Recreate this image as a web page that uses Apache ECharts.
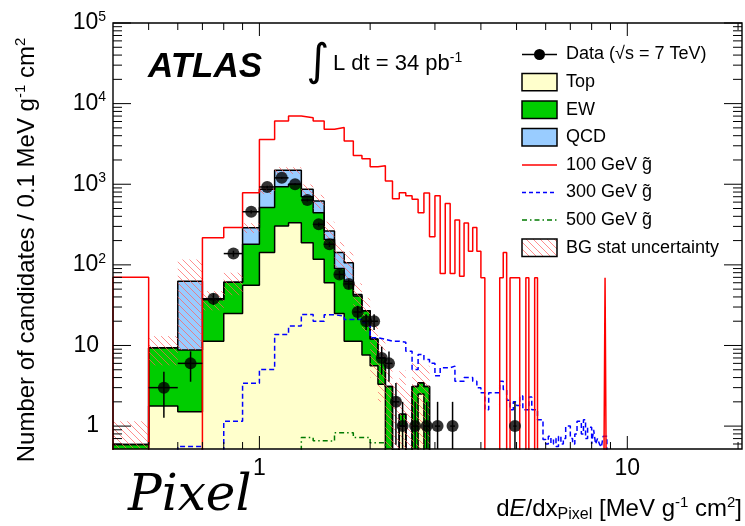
<!DOCTYPE html>
<html>
<head>
<meta charset="utf-8">
<script src="https://cdn.jsdelivr.net/npm/echarts@6/dist/echarts.min.js"></script>
<style>
  html, body { margin: 0; padding: 0; background: #fff; }
  #main { width: 745px; height: 526px; }
</style>
</head>
<body>
<div id="main"></div>
<script>
// histogram binning: 0.1 MeV g^-1 cm^2 bins starting at 0.4
const BIN_START = 0.4;
const BIN_W = 0.1;

// backgrounds, one value per bin from 0.4 to 2.9
const bgTop = [0.3, 1.77, 1.51, 11.3, 25, 56, 142, 303, 334, 188, 117, 60, 25, 11.3, 11.3, 7.6, 5.6, 3.3, 0.3, 0.3, 1.0, 0.2, 0.3, 2.5, 0.3];
const bgEW  = [0.29, 7.6, 7.3, 26, 36, 124, 371, 631, 666, 514, 327, 147, 65, 50.7, 29.7, 19.4, 6.4, 3.7, 2.8, 0.2, 0.4, 0.1, 2.8, 0.95, 2.8];
const bgQCD = [0, 0, 54, 0, 0, 109, 351, 552, 486, 162, 175, 56, 52, 44, 2, 0, 0, 0, 0, 0, 0, 0, 0, 0, 0];
const bgErr = [0.56, 3.7, 54, 10, 19, 40, 110, 140, 140, 130, 120, 80, 50, 40, 16, 12, 8, 5, 2.8, 3, 3.5, 2.5, 3, 3, 2.5];

// gluino signals, one value per bin from 0.4
const sig100 = [70, 0, 0, 217, 290, 786, 3600, 6100, 7000, 6700, 6100, 4800, 5050, 3440, 2270, 2070, 1650, 1700, 1100, 662,
  786, 719, 650, 444, 776, 224, 720, 78, 575, 78, 360, 72, 330, 147, 290, 147, 69, 0, 0, 0,
  0, 69, 142, 0, 69, 69, 69, 0, 0, 69, 0, 0, 69,
  0, 0, 0, 0, 0, 0, 0, 0, 0, 0, 0, 0, 0, 0, 0, 0, 0, 0, 0, 0, 0, 0, 0, 0, 0, 0, 0, 0, 0, 0,
  69];
const sig300 = [0, 0, 0.56, 0, 1.15, 3.4, 5.05, 13.7, 17.4, 24.3, 20, 24, 23.2, 21, 21, 19.2, 12.5, 11.9, 11.3, 11.3,
  11, 8.5, 5.05, 7.75, 6.7, 6.0, 4.2, 5.3, 5.3, 5.55, 3.6, 3.6, 4.0, 4.0, 3.6, 3.0, 2.6, 1.6, 2.6, 2.6,
  2.6, 3.6, 2.85, 2.1, 1.6, 2.0, 1.8, 2.36, 1.6, 1.6, 2.3, 1.6, 1.6, 1.2, 1.2, 0.68, 0.6, 0.75, 0.6, 0.7,
  0.56, 0.75, 0.6, 0.7, 1.0, 1.0, 0.7, 0.6, 0.8, 1.15, 1.15, 0.8, 1.2, 0.7, 0.97, 0.97, 0.6, 0.9, 0.6, 0.7,
  0.6, 0.55, 0.75, 0.75];
const sig500 = [0, 0, 0, 0, 0, 0, 0, 0, 0, 0.72, 0.66, 0.65, 0.83, 0.83, 0.72, 0.72, 0.62, 0.62];

// data: bin centres and counts
const dataX = [0.55, 0.65, 0.75, 0.85, 0.95, 1.05, 1.15, 1.25, 1.35, 1.45, 1.55, 1.65, 1.75, 1.85, 1.95, 2.05, 2.15, 2.25, 2.35, 2.45, 2.65, 2.85, 3.05, 3.35, 4.95];
const dataN = [3, 6, 38, 138, 456, 925, 1200, 1000, 636, 318, 180, 76, 58, 26, 20, 20, 7, 6, 2, 1, 1, 1, 1, 1, 1];

const X_MIN = 0.4, X_MAX = 20.5;
const Y_MIN = 0.52, Y_MAX = 1e5;
const FLOOR = 0.01; // empty bins drop below the frame

const FONT = "'Liberation Sans', Arial, Helvetica, sans-serif";

const edge = i => +(BIN_START + i * BIN_W).toFixed(2);

function steps(vals) {
    const pts = [[edge(0), FLOOR]];
    vals.forEach((v, i) => {
        const y = v > 0 ? v : FLOOR;
        pts.push([edge(i), y], [edge(i + 1), y]);
    });
    pts.push([edge(vals.length), FLOOR]);
    return pts;
}

const stEW = bgTop.map((v, i) => v + bgEW[i]);
const stAll = stEW.map((v, i) => v + bgQCD[i]);

// red hatch for BG stat uncertainty
const hatchCanvas = document.createElement('canvas');
hatchCanvas.width = 7;
hatchCanvas.height = 7;
(function () {
    const g = hatchCanvas.getContext('2d');
    g.strokeStyle = 'rgba(255,95,95,0.7)';
    g.lineWidth = 1;
    g.beginPath();
    g.moveTo(0, 0); g.lineTo(7, 7);
    g.moveTo(-1, 6); g.lineTo(1, 8);
    g.moveTo(6, -1); g.lineTo(8, 1);
    g.stroke();
})();
const hatch = { image: hatchCanvas, repeat: 'repeat' };

const hatchData = [];
stAll.forEach((t, i) => {
    if (bgErr[i] > 0) hatchData.push([edge(i), edge(i + 1), t, bgErr[i]]);
});

// tick marks (ROOT style, all four sides)
const tickData = [];
[0.5, 0.6, 0.7, 0.8, 0.9, 1, 2, 3, 4, 5, 6, 7, 8, 9, 10, 20].forEach(v => {
    tickData.push([v, 1, 0, (v === 1 || v === 10) ? 1 : 0]);
});
for (let e = -1; e <= 5; e++) {
    for (let k = 1; k <= 9; k++) {
        const v = k * Math.pow(10, e);
        if (v > Y_MIN && v <= Y_MAX) tickData.push([1, v, 1, k === 1 ? 1 : 0]);
    }
}

const chart = echarts.init(document.getElementById('main'));

const isPow10 = v => Math.abs(Math.log10(v) - Math.round(Math.log10(v))) < 1e-6;

const legendRows = [54.5, 82.1, 109.7, 137.3, 164.9, 192.5, 220.1, 247.7];
const legendNames = ['Data (\u221As = 7 TeV)', 'Top', 'EW', 'QCD', '100 GeV g\u0303', '300 GeV g\u0303', '500 GeV g\u0303', 'BG stat uncertainty'];

const graphics = [];
const LX = 522, LW = 35, LH = 17.4;
graphics.push({ type: 'line', shape: { x1: LX, y1: legendRows[0], x2: LX + LW, y2: legendRows[0] }, style: { stroke: '#000', lineWidth: 1.5 } });
graphics.push({ type: 'circle', shape: { cx: LX + LW / 2, cy: legendRows[0], r: 5.5 }, style: { fill: '#000' } });
[['#ffffcc', 1], ['#00cc00', 2], ['#99ccff', 3], [hatch, 7]].forEach(([fill, r]) => {
    graphics.push({ type: 'rect', shape: { x: LX, y: legendRows[r] - LH / 2, width: LW, height: LH }, style: { fill: fill, stroke: '#000', lineWidth: 1.5 } });
});
[['#ff0000', null, 4], ['#0000ff', [4, 3], 5], ['#007a00', [5, 3, 1.5, 3], 6]].forEach(([c, d, r]) => {
    graphics.push({ type: 'line', shape: { x1: LX, y1: legendRows[r], x2: LX + LW, y2: legendRows[r] }, style: { stroke: c, lineWidth: 1.5, lineDash: d } });
});
legendNames.forEach((n, i) => {
    graphics.push({ type: 'text', x: 566, y: legendRows[i], style: { text: n, fontSize: 18, fontFamily: FONT, fill: '#000', align: 'left', verticalAlign: 'middle' } });
});

// labels on the canvas
graphics.push({ type: 'text', x: 148, y: 67, style: { text: 'ATLAS', fontSize: 35, fontWeight: 'bold', fontStyle: 'italic', fontFamily: FONT, fill: '#000', align: 'left', verticalAlign: 'middle' } });
graphics.push({ type: 'text', x: 318, y: 64, style: { text: '\u222B', fontSize: 44, fontFamily: "'DejaVu Sans'", fill: '#000', align: 'center', verticalAlign: 'middle' } });
graphics.push({
    type: 'text', x: 333, y: 64,
    style: {
        text: '{m|L dt = 34 pb}{s|-1}', align: 'left', verticalAlign: 'middle',
        rich: {
            m: { fontSize: 22, lineHeight: 26, fontFamily: FONT, fill: '#000' },
            s: { fontSize: 14, lineHeight: 12, verticalAlign: 'top', fontFamily: FONT, fill: '#000' }
        }
    }
});
graphics.push({ type: 'text', x: 128, y: 497, style: { text: 'Pixel', fontSize: 50, fontStyle: 'italic', fontFamily: "'DejaVu Serif'", fill: '#000', align: 'left', verticalAlign: 'middle' } });

const titleRich = {
    m: { fontSize: 24, lineHeight: 28, fontFamily: FONT, fill: '#000' },
    i: { fontSize: 24, lineHeight: 28, fontStyle: 'italic', fontFamily: FONT, fill: '#000' },
    s: { fontSize: 15, lineHeight: 14, verticalAlign: 'top', fontFamily: FONT, fill: '#000' },
    b: { fontSize: 16, lineHeight: 14, verticalAlign: 'bottom', fontFamily: FONT, fill: '#000' }
};
graphics.push({
    type: 'text', x: 27, y: 250, rotation: Math.PI / 2,
    style: { text: '{m|Number of candidates / 0.1 MeV g}{s|-1}{m| cm}{s|2}', align: 'center', verticalAlign: 'middle', rich: titleRich }
});
graphics.push({
    type: 'text', x: 742, y: 509,
    style: { text: '{m|d}{i|E}{m|/dx}{b|Pixel}{m| [MeV g}{s|-1}{m| cm}{s|2}{m|]}', align: 'right', verticalAlign: 'middle', rich: titleRich }
});

const option = {
    animation: false,
    grid: { left: 113, right: 2, top: 23, bottom: 77 },
    xAxis: {
        type: 'log', logBase: 10, min: X_MIN, max: X_MAX,
        axisLine: { show: false }, axisTick: { show: false }, splitLine: { show: false },
        axisLabel: {
            margin: 8, fontSize: 23, color: '#000', fontFamily: FONT,
            formatter: v => isPow10(v) ? String(Math.round(v)) : ''
        }
    },
    yAxis: {
        type: 'log', logBase: 10, min: Y_MIN, max: Y_MAX,
        axisLine: { show: false }, axisTick: { show: false }, splitLine: { show: false },
        axisLabel: {
            margin: 7, color: '#000',
            formatter: v => {
                if (!isPow10(v)) return '';
                const e = Math.round(Math.log10(v));
                if (e === 0) return '{p|1}';
                if (e === 1) return '{p|10}';
                return '{b|10}{s|' + e + '}';
            },
            rich: {
                b: { fontSize: 23, lineHeight: 26, fontFamily: FONT, color: '#000' },
                p: { fontSize: 23, lineHeight: 26, fontFamily: FONT, color: '#000', padding: [0, 7, 0, 0] },
                s: { fontSize: 14, lineHeight: 12, verticalAlign: 'top', fontFamily: FONT, color: '#000' }
            }
        }
    },
    series: [
        {
            name: 'QCD', type: 'line', data: steps(stAll), symbol: 'none', z: 2,
            lineStyle: { color: '#000', width: 1.5 },
            areaStyle: { color: '#99ccff', opacity: 1, origin: 'start' }
        },
        {
            name: 'EW', type: 'line', data: steps(stEW), symbol: 'none', z: 2,
            lineStyle: { color: '#000', width: 1.5 },
            areaStyle: { color: '#00cc00', opacity: 1, origin: 'start' }
        },
        {
            name: 'Top', type: 'line', data: steps(bgTop), symbol: 'none', z: 2,
            lineStyle: { color: '#000', width: 1.5 },
            areaStyle: { color: '#ffffcc', opacity: 1, origin: 'start' }
        },
        {
            name: 'BG stat uncertainty', type: 'custom', z: 3, data: hatchData,
            renderItem: (params, api) => {
                const lo = api.value(0), hi = api.value(1), t = api.value(2), err = api.value(3);
                const yl = Math.max(t - err, Y_MIN), yh = Math.min(t + err, Y_MAX);
                const p0 = api.coord([lo, yh]), p1 = api.coord([hi, yl]);
                return { type: 'rect', shape: { x: p0[0], y: p0[1], width: p1[0] - p0[0], height: p1[1] - p0[1] }, style: { fill: hatch, stroke: null } };
            }
        },
        {
            name: '500 GeV', type: 'line', data: steps(sig500), symbol: 'none', z: 4,
            lineStyle: { color: '#007a00', width: 1.5, type: [5, 3, 1.5, 3] }
        },
        {
            name: '300 GeV', type: 'line', data: steps(sig300), symbol: 'none', z: 4,
            lineStyle: { color: '#0000ff', width: 1.5, type: [5, 3] }
        },
        {
            name: '100 GeV', type: 'line', data: steps(sig100), symbol: 'none', z: 4,
            lineStyle: { color: '#ff0000', width: 1.5 }
        },
        {
            name: 'Data errors', type: 'custom', z: 5,
            data: dataX.map((x, i) => [x, dataN[i]]),
            renderItem: (params, api) => {
                const x = api.value(0), n = api.value(1), err = Math.sqrt(n);
                const top = api.coord([x, n + err]);
                const bot = api.coord([x, Math.max(n - err, Y_MIN)]);
                const l = api.coord([x - BIN_W / 2, n]);
                const r = api.coord([x + BIN_W / 2, n]);
                const st = { stroke: '#000', lineWidth: 1.5 };
                return {
                    type: 'group', children: [
                        { type: 'line', shape: { x1: top[0], y1: top[1], x2: bot[0], y2: bot[1] }, style: st },
                        { type: 'line', shape: { x1: l[0], y1: l[1], x2: r[0], y2: r[1] }, style: st }
                    ]
                };
            }
        },
        {
            name: 'Data', type: 'scatter', z: 6, symbol: 'circle', symbolSize: 12,
            itemStyle: { color: '#000' },
            data: dataX.map((x, i) => [x, dataN[i]])
        },
        {
            name: 'frame', type: 'custom', z: 7, data: tickData, silent: true,
            renderItem: (params, api) => {
                const cs = params.coordSys;
                const kind = api.value(2), major = api.value(3);
                const st = { stroke: '#000', lineWidth: 1 };
                const kids = [];
                if (kind === 0) {
                    const px = api.coord([api.value(0), 1])[0];
                    const len = major ? 13 : 7;
                    kids.push({ type: 'line', shape: { x1: px, y1: cs.y, x2: px, y2: cs.y + len }, style: st });
                    kids.push({ type: 'line', shape: { x1: px, y1: cs.y + cs.height, x2: px, y2: cs.y + cs.height - len }, style: st });
                } else {
                    const py = api.coord([1, api.value(1)])[1];
                    const len = major ? 18 : 9;
                    kids.push({ type: 'line', shape: { x1: cs.x, y1: py, x2: cs.x + len, y2: py }, style: st });
                    kids.push({ type: 'line', shape: { x1: cs.x + cs.width, y1: py, x2: cs.x + cs.width - len, y2: py }, style: st });
                }
                if (params.dataIndex === 0) {
                    kids.push({ type: 'rect', shape: { x: cs.x, y: cs.y, width: cs.width, height: cs.height }, style: { fill: null, stroke: '#000', lineWidth: 1.4 } });
                }
                return { type: 'group', children: kids };
            }
        }
    ],
    graphic: graphics
};

chart.setOption(option);
</script>
</body>
</html>
